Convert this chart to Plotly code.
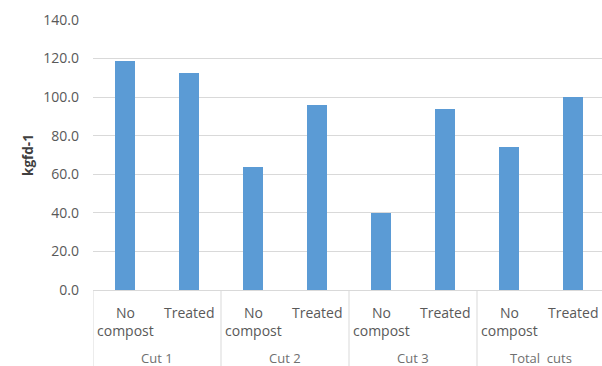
import plotly.graph_objects as go

# Yield per treatment and cut
groups = ["Cut 1", "Cut 2", "Cut 3", "Total  cuts"]
treatments = ["No<br>compost", "Treated"]
values = [118.8, 112.3, 63.6, 96.0, 40.0, 94.1, 74.2, 100.3]
y_ticks = [0, 20, 40, 60, 80, 100, 120, 140]

bar_color = "#5b9bd5"
grid_color = "#d9d9d9"
text_color = "#595959"
font_family = "'Open Sans', sans-serif"

n = len(values)
xpos = list(range(n))

fig = go.Figure(go.Bar(
    x=xpos, y=values, width=0.31,
    marker=dict(color=bar_color, line=dict(width=0)),
    hoverinfo="x+y",
))

annotations = []
# treatment labels under each bar
for i in xpos:
    annotations.append(dict(
        x=i, y=0, xref="x", yref="paper", text=treatments[i % 2],
        showarrow=False, yanchor="top", yshift=-11,
        font=dict(family=font_family, size=14, color=text_color),
        align="center",
    ))
# group labels
for g, name in enumerate(groups):
    annotations.append(dict(
        x=2 * g + 0.5, y=0, xref="x", yref="paper", text=name,
        showarrow=False, yanchor="top", yshift=-57,
        font=dict(family=font_family, size=13, color="#6f6f6f"),
    ))

# group dividers below the axis
shapes = []
for g in range(len(groups)):
    xb = 2 * g - 0.5
    shapes.append(dict(
        type="line", xref="x", yref="paper", x0=xb, x1=xb, y0=0, y1=-0.3,
        line=dict(color=grid_color, width=1),
    ))

fig.update_layout(
    width=602, height=366,
    margin=dict(l=93, r=0, t=20, b=76),
    paper_bgcolor="white", plot_bgcolor="white",
    showlegend=False,
    bargap=0,
    xaxis=dict(
        range=[-0.5, 7.453], showticklabels=False, showgrid=False,
        zeroline=False, showline=False, ticks="",
    ),
    yaxis=dict(
        range=[0, 140], tickvals=y_ticks,
        ticktext=[f"{v:.1f}" for v in y_ticks],
        showgrid=True, gridcolor=grid_color, gridwidth=1,
        zeroline=True, zerolinecolor=grid_color, zerolinewidth=1,
        showline=False, ticks="", ticklabelstandoff=13,
        tickfont=dict(family=font_family, size=14, color=text_color),
        title=dict(text="<b>kgfd-1</b>", standoff=6,
                   font=dict(family=font_family, size=13.5, color="#404040")),
    ),
    annotations=annotations,
    shapes=shapes,
)

fig.write_html("out.html")
